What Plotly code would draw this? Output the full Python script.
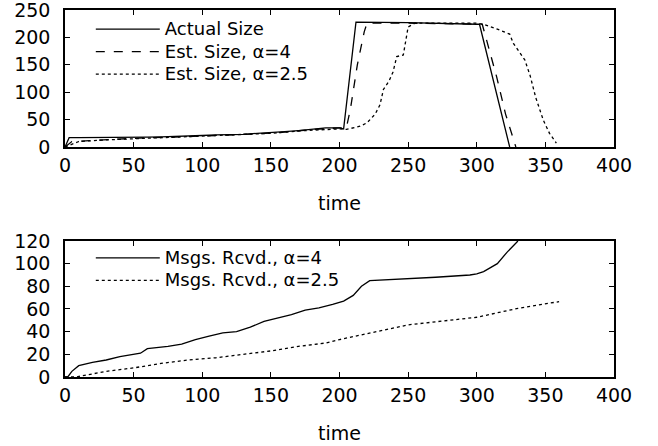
import plotly.graph_objects as go
from plotly.subplots import make_subplots

# ---- top panel: group size ----
t_actual = [0, 3, 10, 20, 30, 40, 50, 55, 60, 70, 80, 90, 100, 110, 120, 130, 140, 150,
            160, 170, 180, 190, 200, 203, 212, 215, 250, 300, 302, 324]
v_actual = [0, 17, 17, 17, 17.5, 18, 18, 17, 18, 18.5, 19, 20, 21, 22, 22, 23, 25, 26,
            28, 30, 33, 35, 35, 33, 228, 228, 227, 224, 224, 0]

t_est4 = [0, 5, 20, 40, 60, 80, 100, 120, 140, 160, 180, 200, 205, 208, 213, 218, 220,
          250, 300, 304, 314.5, 321, 328.5]
v_est4 = [0, 10, 12, 15, 17, 18, 20, 21, 24, 27, 32, 35, 35, 70, 150, 210, 226,
          226, 224, 224, 128, 60, 0]

t_est25 = [0, 5, 10, 30, 50, 70, 100, 130, 150, 175, 200, 205, 215, 220, 226, 229.5, 232,
           236, 239, 241.7, 246.5, 250, 255, 300, 305, 315, 324, 326.7, 335, 338.8, 343,
           348.5, 353, 358]
v_est25 = [0, 5, 10, 13, 15, 17, 19, 22, 25, 30, 33, 32, 38, 44, 60, 77, 105,
           120, 137, 165, 168, 219, 226, 226, 224, 215, 206, 189, 159, 131, 90,
           49, 25, 7]

# ---- bottom panel: messages received ----
t_msg4 = [0, 2, 5, 10, 20, 30, 40, 50, 55, 60, 75, 85, 95, 105, 115, 125, 135, 145, 155,
          165, 175, 185, 195, 203, 210, 216, 222, 240, 270, 295, 300, 305, 315, 322, 330]
v_msg4 = [0, 0, 5, 10, 13, 15, 18, 20, 21, 25, 27, 29, 33, 36, 39, 40, 44, 49, 52,
          55, 59, 61, 64, 67, 72, 80, 85, 86, 88, 90, 91, 93, 100, 110, 120]

t_msg25 = [0, 8, 30, 50, 70, 90, 110, 130, 150, 170, 190, 200, 210, 250, 300, 330, 360]
v_msg25 = [0, 0, 5, 8, 12, 15, 17, 20, 23, 27, 30, 33, 35.6, 46, 52.7, 60.6, 66.5]

x_ticks = [0, 50, 100, 150, 200, 250, 300, 350, 400]
y_ticks_top = [0, 50, 100, 150, 200, 250]
y_ticks_bottom = [0, 20, 40, 60, 80, 100, 120]

FONT = "DejaVu Sans"
FS = 19


def lbl(s):
    return '<span style="font-size:18px">' + s + '</span>'


fig = make_subplots(rows=2, cols=1, vertical_spacing=0.256)

line_common = dict(color="black", width=1.3)
fig.add_trace(go.Scatter(x=t_actual, y=v_actual, mode="lines", name=lbl("Actual Size"),
                         line=dict(dash="solid", **line_common), legend="legend"), 1, 1)
fig.add_trace(go.Scatter(x=t_est4, y=v_est4, mode="lines", name=lbl("Est. Size, α=4"),
                         line=dict(dash="dash", **line_common), legend="legend"), 1, 1)
fig.add_trace(go.Scatter(x=t_est25, y=v_est25, mode="lines", name=lbl("Est. Size, α=2.5"),
                         line=dict(dash="dot", **line_common), legend="legend"), 1, 1)

fig.add_trace(go.Scatter(x=t_msg4, y=v_msg4, mode="lines", name=lbl("Msgs. Rcvd., α=4"),
                         line=dict(dash="solid", **line_common), legend="legend2"), 2, 1)
fig.add_trace(go.Scatter(x=t_msg25, y=v_msg25, mode="lines", name=lbl("Msgs. Rcvd., α=2.5"),
                         line=dict(dash="dot", **line_common), legend="legend2"), 2, 1)

axis_common = dict(showline=True, linecolor="black", linewidth=1.5, mirror="ticks",
                   ticks="inside", ticklen=5, tickwidth=1.3, tickcolor="black",
                   showgrid=False, zeroline=False, automargin=False,
                   tickfont=dict(family=FONT, size=FS, color="black"))

for r in (1, 2):
    fig.update_xaxes(range=[0, 400], tickvals=x_ticks, row=r, col=1,
                     title=dict(text="time", font=dict(family=FONT, size=FS, color="black"),
                                standoff=22),
                     **axis_common)

fig.update_yaxes(range=[0, 250], tickvals=y_ticks_top, row=1, col=1,
                 ticklabelstandoff=9, ticklabeloverflow="allow", **axis_common)
fig.update_yaxes(range=[0, 120], tickvals=y_ticks_bottom, row=2, col=1,
                 ticklabelstandoff=9, ticklabeloverflow="allow", **axis_common)

fig.update_layout(
    width=658, height=446,
    margin=dict(l=65, r=44, t=10, b=69, autoexpand=False),
    paper_bgcolor="white", plot_bgcolor="white",
    font=dict(family=FONT, size=FS, color="black"),
    legend=dict(x=0.047, y=0.992, xanchor="left", yanchor="top",
                bgcolor="rgba(0,0,0,0)", font=dict(family=FONT, size=15),
                itemwidth=64, tracegroupgap=0),
    legend2=dict(x=0.047, y=0.369, xanchor="left", yanchor="top",
                 bgcolor="rgba(0,0,0,0)", font=dict(family=FONT, size=15),
                 itemwidth=64, tracegroupgap=0),
)
fig.layout.yaxis.domain = [0.6267, 1.0]
fig.layout.yaxis2.domain = [0.0, 0.3706]

fig.write_html("out.html", config={"displayModeBar": False},
               post_script="document.body.style.margin='0';")
